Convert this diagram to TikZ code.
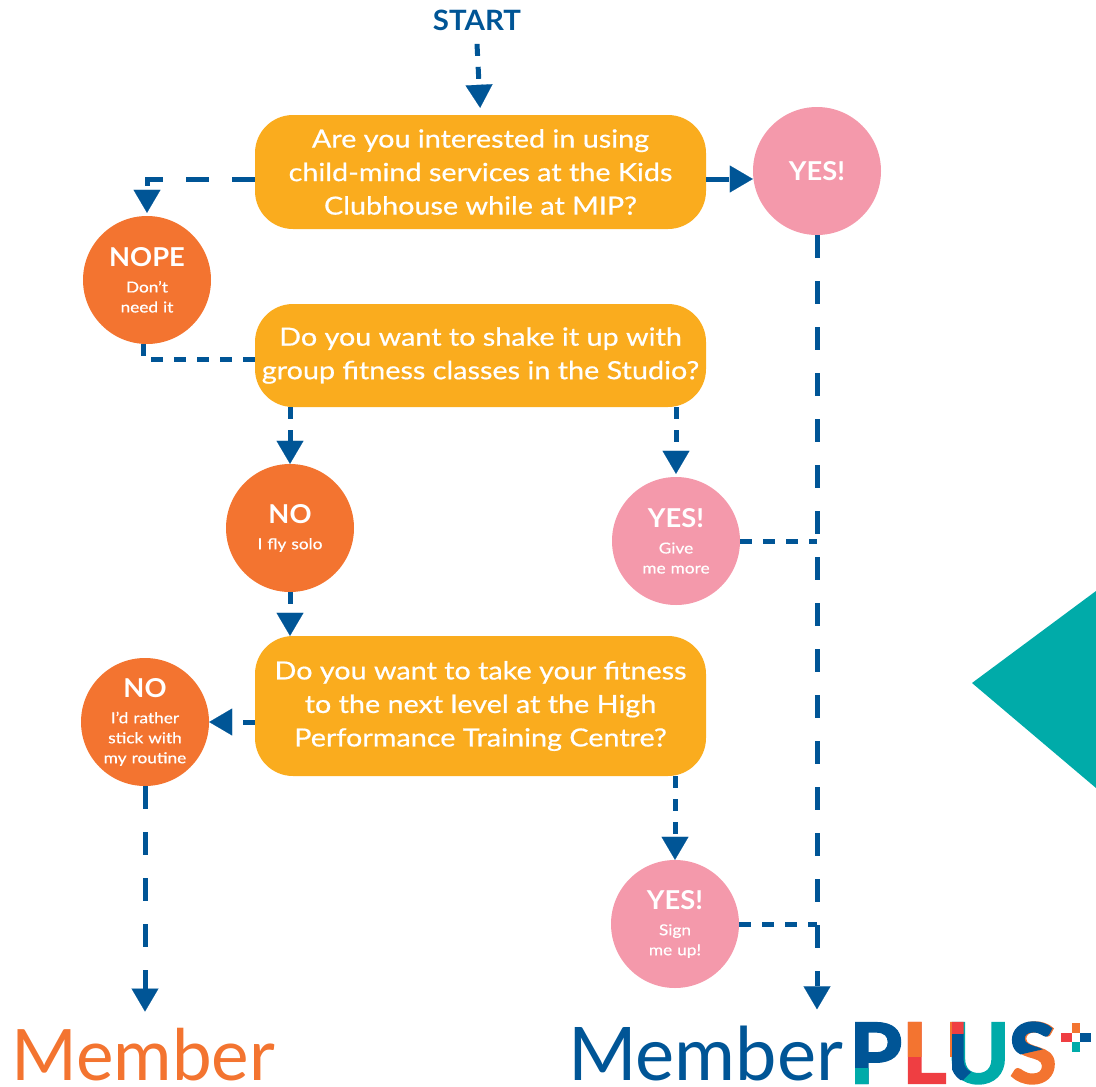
\documentclass[tikz,border=0pt]{standalone}
\usepackage{fontspec}
\setmainfont{Lato}
\newfontface\boxfont{Lato}[FakeBold=0.6, FakeStretch=1.15]
\newfontfamily\headfont{Lato}[BoldFeatures={FakeStretch=1.05}]
\newfontfamily\logofont{Lato}[BoldFeatures={FakeBold=2.5, FakeStretch=1.03}]
\usetikzlibrary{arrows.meta}

\definecolor{mblue}{RGB}{0,85,150}
\definecolor{qorange}{RGB}{250,172,30}
\definecolor{corange}{RGB}{243,116,48}
\definecolor{cpink}{RGB}{244,153,171}
\definecolor{mteal}{RGB}{0,171,169}
\definecolor{mred}{RGB}{239,62,66}

\newcommand\answertext[2]{{\headfont\bfseries\fontsize{26}{26}\selectfont #1\par}\vspace{6pt}#2}

\begin{document}
\begin{tikzpicture}[x=1pt, y=-1pt,
    question/.style={fill=qorange, rounded corners=38pt, text=white, align=center, inner sep=0pt,
        minimum width=451pt, font=\boxfont\fontsize{25}{33.5}\selectfont},
    answer/.style={circle, fill=#1, text=white, minimum size=128pt, inner sep=0pt, align=center,
        text width=88pt, font=\boxfont\fontsize{15}{20}\selectfont},
    longflow/.style={draw=mblue, line width=5pt, dash pattern=on 23pt off 23pt},
    shortflow/.style={draw=mblue, line width=5pt, dash pattern=on 12pt off 11pt},
    arrowed/.style={-{Triangle[width=27pt, length=23pt, line width=0.1pt]}},
    logo/.style={anchor=base west, inner sep=0pt, font=\fontsize{71}{71}\selectfont},
    plusword/.style={anchor=base west, inner sep=0pt, font=\logofont\bfseries\fontsize{83}{83}\selectfont}]
    \useasboundingbox (0,0) rectangle (1096,1087);
    % Side shape
    \fill[mteal] (972,683) -- (1096,591) -- (1096,788) -- cycle;
    % Questions
    \node[font=\headfont\bfseries\fontsize{28}{28}\selectfont, text=mblue] (start) at (477,20) {START};
    \node[question, minimum height=114pt] (q1) at (480.5,172)
        {Are you interested in using\\child-mind services at the Kids\\Clubhouse while at MIP?};
    \node[question, minimum height=103pt] (q2) at (480.5,355.5)
        {Do you want to shake it up with\\group fitness classes in the Studio?};
    \node[question, minimum height=140pt] (q3) at (480.5,706)
        {Do you want to take your fitness\\to the next level at the High\\Performance Training Centre?};
    % Answers
    \node[answer=cpink] (yes1) at (817,171) {{\headfont\bfseries\fontsize{26}{26}\selectfont YES!}};
    \node[answer=corange] (nope) at (147,280) {\answertext{NOPE}{Don’t\\need it}};
    \node[answer=corange] (no1) at (290,528) {\answertext{NO}{I fly solo}};
    \node[answer=cpink] (yes2) at (676,541) {\answertext{YES!}{Give\\me more}};
    \node[answer=corange] (no2) at (145,722) {\answertext{NO}{I’d rather\\stick with\\my routine}};
    \node[answer=cpink] (yes3) at (675,924) {\answertext{YES!}{Sign\\me up!}};
    % Results
    \node[logo, text=corange] (member) at (11,1080) {Member};
    \node[logo, text=mblue, font=\fontsize{74}{74}\selectfont] (mplus) at (568,1080) {Member};
    \node[plusword] (plus) at (849,1083)
        {\textcolor{mblue}{P}\textcolor{mred}{L}\textcolor{mteal}{U}\textcolor{corange}{S}};
    \begin{scope}
        \clip (845,1068) rectangle (871,1095);
        \node[plusword, text=mteal] (plusfoot) at (849,1083) {PLUS};
    \end{scope}
    \begin{scope}
        \clip (903,1010) rectangle (952,1056);
        \node[plusword, text=corange] (plustop) at (849,1083) {PLUS};
    \end{scope}
    \begin{scope}
        \clip (952,1033) -- (977,1033) -- (977,1066) -- (963,1080) -- (952,1080) -- cycle;
        \node[plusword, text=mblue] (plusleft) at (849,1083) {PLUS};
    \end{scope}
    \begin{scope}
        \clip (952,1010) rectangle (977,1033);
        \node[plusword, text=mred] (pluscap) at (849,1083) {PLUS};
    \end{scope}
    \begin{scope}
        \clip (1005,1010) -- (1066,1010) -- (1066,1044) -- (1005,1058) -- cycle;
        \node[plusword, text=mblue] (plushead) at (849,1083) {PLUS};
    \end{scope}
    \fill[corange] (1072,1023) rectangle (1080,1033);
    \fill[mred] (1061,1033) rectangle (1072,1042);
    \fill[mblue] (1080,1033) rectangle (1091,1042);
    \fill[mteal] (1072,1042) rectangle (1080,1052);
    % Connectors
    \draw[shortflow, arrowed, shorten >=7pt] ([yshift=-10pt]start.south) -- (q1.north);
    \draw[longflow, arrowed] ([yshift=-7pt]q1.east) -- ([yshift=-7pt]q1.east -| yes1.west);
    \draw[longflow, arrowed, shorten >=3pt] ([yshift=-7pt]q1.west) -| (nope.north);
    \draw[shortflow] ([xshift=-4pt]nope.south) |- ([yshift=-3.5pt]q2.west);
    \draw[shortflow, arrowed] (q2.south -| no1.north) -- (no1.north);
    \draw[shortflow, arrowed, shorten >=3pt] (q2.south -| yes2.north) -- (yes2.north);
    \draw[shortflow, arrowed] (no1.south) -- (q3.north -| no1.south);
    \draw[shortflow, arrowed] (q3.west |- no2.east) -- (no2.east);
    \draw[shortflow, arrowed] (q3.south -| yes3.north) -- (yes3.north);
    \draw[longflow, arrowed, shorten >=16pt] (yes1.south) -- (yes1.south |- mplus.north);
    \draw[longflow, arrowed, shorten >=16pt] (no2.south) -- (no2.south |- member.north);
    \foreach \n in {yes2, yes3}
        \draw[shortflow] (\n.east) -- (\n.east -| yes1.south);
\end{tikzpicture}
\end{document}
